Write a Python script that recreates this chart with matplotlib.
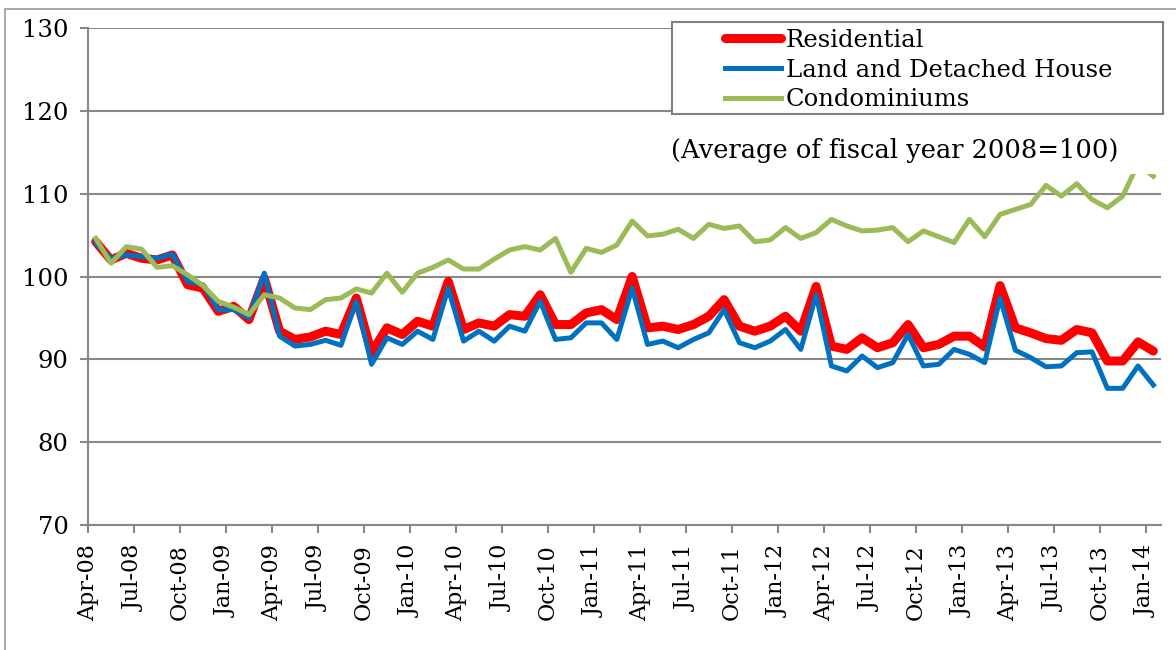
import matplotlib
matplotlib.use('Agg')
import matplotlib.pyplot as plt
from matplotlib.patches import Rectangle

# monthly index, Apr-08 .. Jan-14 (70 months)
residential = [104.2, 102.0, 102.8, 102.2, 102.0, 102.6, 99.0, 98.6, 95.8, 96.4, 94.8, 99.8, 93.4, 92.4,
               92.7, 93.4, 93.0, 97.4, 90.8, 93.8, 93.0, 94.6, 94.0, 99.4, 93.6, 94.4, 94.0, 95.4,
               95.2, 97.8, 94.2, 94.2, 95.6, 96.0, 94.8, 100.0, 93.8, 94.0, 93.6, 94.2, 95.2, 97.2,
               94.0, 93.4, 94.0, 95.2, 93.4, 98.8, 91.6, 91.2, 92.6, 91.4, 92.0, 94.2, 91.4, 91.8,
               92.8, 92.8, 91.5, 98.9, 93.8, 93.2, 92.5, 92.3, 93.6, 93.2, 89.8, 89.8, 92.1, 91.0]
land_house = [104.0, 102.2, 102.6, 102.4, 102.2, 102.7, 99.4, 99.0, 96.0, 96.0, 95.0, 100.4, 92.8, 91.6,
              91.8, 92.3, 91.7, 97.0, 89.4, 92.6, 91.8, 93.4, 92.4, 98.6, 92.2, 93.4, 92.2, 94.0,
              93.4, 97.0, 92.4, 92.6, 94.4, 94.4, 92.4, 98.6, 91.8, 92.2, 91.4, 92.4, 93.2, 96.0,
              92.0, 91.4, 92.2, 93.6, 91.2, 97.8, 89.2, 88.6, 90.4, 89.0, 89.6, 93.0, 89.2, 89.4,
              91.2, 90.6, 89.6, 97.4, 91.1, 90.2, 89.1, 89.2, 90.8, 90.9, 86.5, 86.5, 89.2, 86.9]
condos = [104.6, 101.6, 103.6, 103.3, 101.1, 101.3, 100.2, 98.9, 97.0, 96.3, 95.4, 97.8, 97.4, 96.2,
          96.0, 97.2, 97.4, 98.5, 98.0, 100.4, 98.1, 100.4, 101.1, 102.0, 100.9, 100.9, 102.1, 103.2,
          103.6, 103.2, 104.6, 100.5, 103.4, 102.9, 103.8, 106.7, 104.9, 105.1, 105.7, 104.6, 106.3, 105.8,
          106.1, 104.2, 104.4, 105.9, 104.6, 105.3, 106.9, 106.1, 105.5, 105.6, 105.9, 104.2, 105.5, 104.8,
          104.1, 106.9, 104.8, 107.5, 108.1, 108.7, 111.0, 109.7, 111.2, 109.3, 108.3, 109.7, 113.6, 112.1]
tick_labels = ['Apr-08', 'Jul-08', 'Oct-08', 'Jan-09', 'Apr-09', 'Jul-09', 'Oct-09', 'Jan-10',
               'Apr-10', 'Jul-10', 'Oct-10', 'Jan-11', 'Apr-11', 'Jul-11', 'Oct-11', 'Jan-12',
               'Apr-12', 'Jul-12', 'Oct-12', 'Jan-13', 'Apr-13', 'Jul-13', 'Oct-13', 'Jan-14']

plt.rcParams['font.family'] = ['DejaVu Serif']
grey = '#888888'

fig = plt.figure(figsize=(11.76, 6.5), dpi=100)
ax = fig.add_axes([88/1176, 1 - 525/650, 1073/1176, 497/650])

x = list(range(len(residential)))
ax.plot(x, residential, color='#FF0000', lw=6.5, solid_capstyle='round', solid_joinstyle='round',
        zorder=2, label='Residential')
ax.plot(x, land_house, color='#0070C0', lw=3.6, solid_joinstyle='round', zorder=3,
        label='Land and Detached House')
ax.plot(x, condos, color='#9BBB59', lw=3.6, solid_joinstyle='round', zorder=4,
        label='Condominiums')

ax.set_xlim(-0.5, len(residential) - 0.5)
ax.set_ylim(70, 130)
ax.set_yticks(range(70, 131, 10))
ax.set_xticks([i * 3 - 0.5 for i in range(len(tick_labels))])
ax.set_xticklabels(tick_labels, rotation=90)
ax.tick_params(axis='both', color=grey, width=1.5, length=6, direction='out')
ax.tick_params(axis='y', pad=8, labelsize=17.5)
ax.tick_params(axis='x', pad=8, labelsize=16)
ax.grid(axis='y', color=grey, lw=1.5)
ax.set_axisbelow(True)
for s in ['top', 'right']:
    ax.spines[s].set_visible(False)
for s in ['left', 'bottom']:
    ax.spines[s].set_color(grey)
    ax.spines[s].set_linewidth(1.5)

# text box covering part of the plot
ax.add_patch(Rectangle((0.538, 0.706), 0.47, 0.12, transform=ax.transAxes,
                       facecolor='white', edgecolor='none', zorder=5, clip_on=False))
ax.text(0.752, 0.754, '(Average of fiscal year 2008=100)', transform=ax.transAxes,
        ha='center', va='center', fontsize=18.5, zorder=6)

# legend box
ax.add_patch(Rectangle((0.544, 0.827), 0.4576, 0.185, transform=ax.transAxes,
                       facecolor='white', edgecolor='#7f7f7f', lw=1.5, zorder=5, clip_on=False))
leg = ax.legend(loc='upper left', bbox_to_anchor=(0.5937, 0.998), frameon=False,
                fontsize=17.5, handlelength=2.3, handletextpad=0.2, labelspacing=0.27,
                borderpad=0, borderaxespad=0)
leg.set_zorder(7)

# outer border of the chart area
fig.add_artist(Rectangle((5/1176, -0.1), 1.1, 1.1 - 9/650, transform=fig.transFigure,
                         facecolor='none', edgecolor='#999999', lw=1.2))

fig.savefig('out.png', dpi=100)
